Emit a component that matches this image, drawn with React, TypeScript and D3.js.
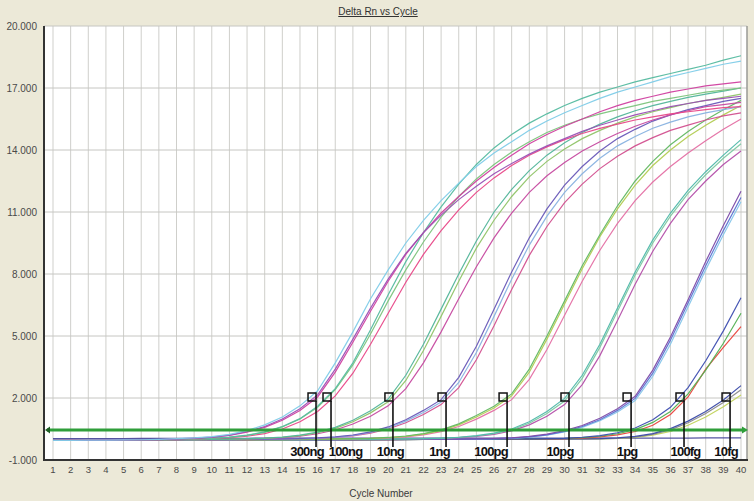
import React from "react";
import * as d3 from "d3";

const cycles = [1,2,3,4,5,6,7,8,9,10,11,12,13,14,15,16,17,18,19,20,21,22,23,24,25,26,27,28,29,30,31,32,33,34,35,36,37,38,39,40];
const yTicks = [-1, 2, 5, 8, 11, 14, 17, 20];
const yTickLabels = ["-1.000", "2.000", "5.000", "8.000", "11.000", "14.000", "17.000", "20.000"];
const chartTitle = "Delta Rn vs Cycle";
const xTitle = "Cycle Number";
const threshold = 0.45;

// 300ng
const ng300a = [-0.05,-0.05,-0.04,-0.04,-0.03,-0.02,0.00,0.03,0.07,0.13, 0.24,0.42,0.70,1.08,1.62,2.35,3.70,5.20,6.80,8.20, 9.50,10.60,11.55,12.40,13.20,13.85,14.40,14.95,15.40,15.80, 16.15,16.50,16.80,17.05,17.30,17.55,17.75,17.95,18.15,18.30];
const ng300b = [-0.04,-0.05,-0.05,-0.04,-0.03,-0.03,-0.01,0.02,0.06,0.11, 0.20,0.38,0.62,0.98,1.48,2.15,3.40,4.85,6.35,7.75, 9.00,10.00,10.85,11.60,12.25,12.85,13.35,13.80,14.20,14.55, 14.90,15.20,15.45,15.70,15.90,16.10,16.25,16.40,16.50,16.60];
const ng300c = [-0.05,-0.04,-0.04,-0.03,-0.03,-0.02,-0.01,0.02,0.05,0.10, 0.19,0.35,0.58,0.92,1.40,2.05,3.25,4.70,6.20,7.65, 8.95,10.00,10.95,11.75,12.50,13.15,13.75,14.30,14.75,15.15, 15.50,15.85,16.15,16.40,16.60,16.80,16.95,17.10,17.20,17.30];
// 100ng
const ng100a = [-0.05,-0.05,-0.04,-0.04,-0.04,-0.03,-0.02,0.00,0.03,0.06, 0.11,0.20,0.36,0.62,1.00,1.60,2.45,3.70,5.30,7.00, 8.60,10.00,11.25,12.35,13.30,14.10,14.75,15.30,15.75,16.15, 16.50,16.80,17.05,17.30,17.50,17.70,17.90,18.10,18.35,18.56];
const ng100b = [-0.04,-0.05,-0.05,-0.04,-0.03,-0.03,-0.02,0.00,0.02,0.05, 0.10,0.19,0.34,0.60,0.98,1.55,2.40,3.60,5.10,6.70, 8.20,9.55,10.75,11.75,12.60,13.30,13.90,14.40,14.85,15.20, 15.50,15.75,15.95,16.15,16.35,16.50,16.65,16.80,16.90,17.00];
const ng100c = [-0.05,-0.05,-0.05,-0.04,-0.04,-0.03,-0.02,-0.01,0.01,0.04, 0.08,0.15,0.28,0.50,0.85,1.35,2.10,3.20,4.60,6.10, 7.60,8.95,10.10,11.10,11.95,12.65,13.25,13.75,14.15,14.50, 14.80,15.05,15.25,15.45,15.60,15.75,15.85,15.95,16.05,16.10];
// 10ng
const ng10a = [-0.05,-0.05,-0.05,-0.04,-0.04,-0.03,-0.03,-0.02,-0.01,0.00, 0.01,0.03,0.06,0.11,0.20,0.35,0.58,0.92,1.38,1.95, 3.10,4.60,6.30,8.00,9.60,11.00,12.10,13.00,13.75,14.35, 14.85,15.25,15.60,15.90,16.15,16.35,16.55,16.70,16.85,17.00];
const ng10b = [-0.04,-0.05,-0.05,-0.05,-0.04,-0.04,-0.03,-0.02,-0.01,0.00, 0.01,0.02,0.05,0.10,0.18,0.32,0.53,0.85,1.28,1.82, 2.85,4.30,5.95,7.65,9.25,10.60,11.75,12.70,13.45,14.05, 14.55,14.95,15.30,15.60,15.85,16.05,16.25,16.40,16.55,16.70];
const ng10c = [-0.05,-0.05,-0.04,-0.04,-0.04,-0.03,-0.03,-0.02,-0.02,-0.01, 0.00,0.02,0.04,0.08,0.15,0.27,0.45,0.74,1.12,1.62, 2.45,3.70,5.20,6.80,8.35,9.75,10.95,11.95,12.75,13.40, 13.95,14.40,14.80,15.15,15.45,15.70,15.90,16.10,16.20,16.30];
// 1ng
const ng1a = [-0.05,-0.05,-0.05,-0.04,-0.04,-0.04,-0.03,-0.03,-0.02,-0.02, -0.01,0.00,0.01,0.02,0.04,0.07,0.12,0.21,0.36,0.60, 0.95,1.40,1.92,3.00,4.50,6.30,8.10,9.75,11.15,12.30, 13.20,13.95,14.55,15.00,15.40,15.70,15.95,16.15,16.35,16.50];
const ng1b = [-0.04,-0.05,-0.05,-0.05,-0.04,-0.04,-0.03,-0.03,-0.03,-0.02, -0.01,0.00,0.01,0.02,0.03,0.06,0.11,0.19,0.33,0.55, 0.88,1.30,1.80,2.75,4.20,5.95,7.75,9.40,10.80,11.95, 12.85,13.60,14.20,14.65,15.05,15.35,15.60,15.80,15.95,16.10];
const ng1c = [-0.05,-0.05,-0.04,-0.04,-0.04,-0.03,-0.03,-0.03,-0.02,-0.02, -0.01,-0.01,0.00,0.01,0.03,0.05,0.10,0.17,0.30,0.50, 0.80,1.20,1.68,2.50,3.85,5.50,7.25,8.90,10.30,11.45, 12.35,13.10,13.70,14.20,14.60,14.95,15.20,15.45,15.65,15.80];
// 100pg
const pg100a = [-0.05,-0.05,-0.05,-0.04,-0.04,-0.04,-0.04,-0.03,-0.03,-0.03, -0.02,-0.02,-0.01,-0.01,0.00,0.01,0.02,0.03,0.05,0.09, 0.16,0.28,0.46,0.75,1.15,1.60,2.20,3.40,5.00,6.70, 8.40,9.90,11.30,12.50,13.45,14.25,14.90,15.45,15.95,16.40];
const pg100b = [-0.04,-0.05,-0.05,-0.05,-0.04,-0.04,-0.03,-0.03,-0.03,-0.02, -0.02,-0.02,-0.01,-0.01,0.00,0.01,0.02,0.03,0.05,0.08, 0.14,0.25,0.42,0.70,1.08,1.52,2.10,3.25,4.85,6.55, 8.25,9.80,11.15,12.30,13.25,14.00,14.65,15.20,15.70,16.15];
const pg100c = [-0.05,-0.05,-0.04,-0.04,-0.04,-0.04,-0.03,-0.03,-0.03,-0.02, -0.02,-0.01,-0.01,0.00,0.00,0.01,0.02,0.03,0.04,0.07, 0.12,0.22,0.37,0.62,0.98,1.40,1.92,2.90,4.35,6.00, 7.65,9.15,10.45,11.55,12.45,13.20,13.85,14.45,15.00,15.50];
// 10pg
const pg10a = [-0.05,-0.05,-0.05,-0.04,-0.04,-0.04,-0.04,-0.03,-0.03,-0.03, -0.03,-0.02,-0.02,-0.02,-0.01,-0.01,0.00,0.00,0.01,0.01, 0.02,0.03,0.06,0.10,0.18,0.30,0.50,0.85,1.35,1.98, 3.10,4.60,6.35,8.10,9.65,10.95,12.05,12.95,13.75,14.50];
const pg10b = [-0.04,-0.05,-0.05,-0.05,-0.04,-0.04,-0.04,-0.03,-0.03,-0.03, -0.02,-0.02,-0.02,-0.01,-0.01,0.00,0.00,0.01,0.01,0.02, 0.02,0.03,0.05,0.09,0.16,0.27,0.46,0.78,1.25,1.85, 2.95,4.45,6.20,7.95,9.50,10.80,11.90,12.80,13.60,14.30];
const pg10c = [-0.05,-0.05,-0.04,-0.04,-0.04,-0.04,-0.03,-0.03,-0.03,-0.03, -0.02,-0.02,-0.02,-0.01,-0.01,-0.01,0.00,0.00,0.01,0.01, 0.02,0.03,0.04,0.08,0.14,0.24,0.41,0.70,1.12,1.68, 2.65,4.05,5.75,7.50,9.10,10.45,11.60,12.50,13.30,13.95];
// 1pg
const pg1a = [-0.05,-0.05,-0.05,-0.05,-0.04,-0.04,-0.04,-0.04,-0.03,-0.03, -0.03,-0.03,-0.02,-0.02,-0.02,-0.01,-0.01,-0.01,0.00,0.00, 0.00,0.01,0.01,0.01,0.02,0.04,0.07,0.14,0.25,0.42, 0.67,1.02,1.48,2.08,3.35,4.95,6.75,8.60,10.35,12.00];
const pg1b = [-0.04,-0.05,-0.05,-0.05,-0.05,-0.04,-0.04,-0.04,-0.03,-0.03, -0.03,-0.02,-0.02,-0.02,-0.02,-0.01,-0.01,0.00,0.00,0.00, 0.00,0.01,0.01,0.01,0.02,0.03,0.06,0.12,0.22,0.38, 0.62,0.95,1.40,1.98,3.20,4.80,6.60,8.40,10.10,11.70];
const pg1c = [-0.05,-0.05,-0.04,-0.04,-0.04,-0.04,-0.03,-0.03,-0.03,-0.03, -0.02,-0.02,-0.02,-0.02,-0.01,-0.01,-0.01,0.00,0.00,0.00, 0.00,0.00,0.01,0.01,0.01,0.03,0.05,0.11,0.20,0.36, 0.58,0.90,1.32,1.88,3.05,4.60,6.40,8.20,9.90,11.50];
// 100fg
const fg100a = [-0.05,-0.05,-0.05,-0.05,-0.05,-0.04,-0.04,-0.04,-0.04,-0.03, -0.03,-0.03,-0.03,-0.02,-0.02,-0.02,-0.02,-0.01,-0.01,-0.01, 0.00,0.00,0.00,0.01,0.01,0.01,0.02,0.02,0.03,0.05, 0.10,0.18,0.32,0.55,0.95,1.55,2.50,3.80,5.25,6.85];
const fg100b = [-0.04,-0.05,-0.05,-0.05,-0.05,-0.04,-0.04,-0.04,-0.04,-0.03, -0.03,-0.03,-0.02,-0.02,-0.02,-0.02,-0.01,-0.01,-0.01,0.00, 0.00,0.00,0.00,0.01,0.01,0.01,0.02,0.02,0.03,0.04, 0.08,0.15,0.27,0.47,0.82,1.35,2.20,3.35,4.65,6.10];
const fg100c = [-0.05,-0.05,-0.05,-0.04,-0.04,-0.04,-0.04,-0.04,-0.03,-0.03, -0.03,-0.03,-0.02,-0.02,-0.02,-0.02,-0.01,-0.01,-0.01,-0.01, 0.00,0.00,0.00,0.00,0.01,0.01,0.01,0.02,0.02,0.03, 0.06,0.12,0.22,0.38,0.68,1.20,2.05,3.40,4.45,5.45];
// 10fg
const fg10a = [-0.05,-0.05,-0.05,-0.05,-0.05,-0.05,-0.04,-0.04,-0.04,-0.04, -0.03,-0.03,-0.03,-0.03,-0.02,-0.02,-0.02,-0.02,-0.01,-0.01, -0.01,0.00,0.00,0.00,0.00,0.01,0.01,0.01,0.02,0.02, 0.02,0.03,0.07,0.14,0.28,0.52,0.88,1.35,1.90,2.60];
const fg10b = [-0.04,-0.05,-0.05,-0.05,-0.05,-0.04,-0.04,-0.04,-0.04,-0.04, -0.03,-0.03,-0.03,-0.02,-0.02,-0.02,-0.02,-0.01,-0.01,-0.01, -0.01,0.00,0.00,0.00,0.00,0.00,0.01,0.01,0.01,0.02, 0.02,0.02,0.05,0.11,0.24,0.46,0.80,1.25,1.78,2.40];
const fg10c = [-0.05,-0.05,-0.05,-0.05,-0.04,-0.04,-0.04,-0.04,-0.04,-0.03, -0.03,-0.03,-0.03,-0.02,-0.02,-0.02,-0.02,-0.01,-0.01,-0.01, -0.01,0.00,0.00,0.00,0.00,0.00,0.00,0.01,0.01,0.01, 0.02,0.02,0.04,0.09,0.20,0.38,0.68,1.08,1.58,2.15];
// no template control
const ntc = [0.03,0.03,0.04,0.04,0.04,0.05,0.05,0.05,0.05,0.05, 0.05,0.05,0.06,0.06,0.06,0.06,0.06,0.06,0.06,0.06, 0.06,0.06,0.06,0.06,0.06,0.06,0.06,0.06,0.06,0.06, 0.06,0.06,0.06,0.06,0.06,0.06,0.06,0.07,0.07,0.07];

const seriesValues = [
  ntc, fg10c, fg10b, fg10a, fg100c, fg100b, fg100a, pg1c, pg1b, pg1a,
  pg10c, pg10b, pg10a, pg100c, pg100b, pg100a, ng1c, ng1b, ng1a,
  ng10c, ng10b, ng10a, ng100c, ng100b, ng100a, ng300c, ng300b, ng300a,
];
const seriesColors = [
  "#4b4b9c", "#c2d35c", "#8a8a8a", "#3a4aa8", "#e8453c", "#52b052", "#3d4db0", "#86c6ea", "#5b72d2", "#7c4aa8",
  "#b450aa", "#7cc8a2", "#4fb8aa", "#e470a4", "#b2cc52", "#62b862", "#d2508f", "#88b2e0", "#6858b8",
  "#c64aa0", "#90c468", "#52b59a", "#e84888", "#7cc47c", "#55bba0", "#d040a0", "#9a50b5", "#80cce8",
];

const markLabels = ["300ng", "100ng", "10ng", "1ng", "100pg", "10pg", "1pg", "100fg", "10fg"];
const markCycles = [15.91, 16.76, 20.27, 23.28, 26.74, 30.25, 33.77, 36.77, 39.38];
const markValue = 2;
const labelShift = [-9, 14.5, -2.5, -6.5, -16, -9, -4, 1.5, -4];

export default function App() {
  const W = 754, H = 501;
  const left = 44, right = 747, top = 26, bottom = 460;
  const x = d3.scaleLinear().domain([1, 40]).range([53, 741]);
  const y = d3.scaleLinear().domain([-1, 20]).range([bottom, top]);
  const line = d3.line<number>().x((_, i) => x(cycles[i])).y((d) => y(d));
  const font = "'Liberation Sans', Arial, sans-serif";
  const ty = y(threshold);
  const my = y(markValue);

  return (
    <svg width={W} height={H} style={{ position: "fixed", left: 0, top: 0, display: "block" }} fontFamily={font}>
      <rect x={0} y={0} width={W} height={H} fill="#ECE9D8" />
      <rect x={left} y={top} width={right - left} height={bottom - top} fill="#ffffff" />
      {cycles.map((c) => (
        <line key={"vg" + c} x1={x(c)} x2={x(c)} y1={top} y2={bottom} stroke="#cfcfcb" strokeWidth={1} />
      ))}
      {yTicks.map((t) => (
        <line key={"hg" + t} x1={left} x2={right} y1={y(t)} y2={y(t)} stroke="#c6c6c2" strokeWidth={1} />
      ))}
      <line x1={right} x2={right} y1={top} y2={bottom} stroke="#9a9a96" strokeWidth={1.5} />
      {yTicks.map((t, i) => (
        <text key={"yl" + t} x={37} y={y(t)} dy="0.35em" textAnchor="end" fontSize={10} fill="#4a4a4a">
          {yTickLabels[i]}
        </text>
      ))}
      {cycles.map((c) => (
        <text key={"xl" + c} x={x(c)} y={473} textAnchor="middle" fontSize={9.5} fill="#4a4a4a">
          {c}
        </text>
      ))}
      <text x={381} y={497} textAnchor="middle" fontSize={10} fill="#3a3a3a">{xTitle}</text>
      <text x={378} y={15} textAnchor="middle" fontSize={10} fill="#333" textDecoration="underline">{chartTitle}</text>

      {seriesValues.map((s, i) => (
        <path key={"s" + i} d={line(s) || ""} fill="none" stroke={seriesColors[i]} strokeWidth={1.2} strokeOpacity={0.95} />
      ))}

      <line x1={left + 3} x2={right - 3} y1={ty} y2={ty} stroke="#2f9e3a" strokeWidth={3} />
      <path d={`M${left + 1},${ty} L${left + 6},${ty - 3.5} L${left + 6},${ty + 3.5} Z`} fill="#1f5f25" />
      <path d={`M${right + 1},${ty} L${right - 5},${ty - 3.5} L${right - 5},${ty + 3.5} Z`} fill="#2f9e3a" />

      {markCycles.map((c, i) => {
        const lx = x(c);
        return (
          <g key={"m" + i}>
            <rect x={lx - 8} y={my - 5} width={8} height={8} fill="none" stroke="#111" strokeWidth={1.5} />
            <line x1={lx} x2={lx} y1={my + 3} y2={447} stroke="#111" strokeWidth={1.6} />
            <text x={lx + labelShift[i]} y={456} textAnchor="middle" fontSize={13} fontWeight="bold" letterSpacing={-0.8} fill="#111">
              {markLabels[i]}
            </text>
          </g>
        );
      })}

      <line x1={left} x2={left} y1={top} y2={bottom + 1} stroke="#333" strokeWidth={2} />
      <line x1={left - 1} x2={right + 1} y1={bottom} y2={bottom} stroke="#333" strokeWidth={2} />
    </svg>
  );
}
